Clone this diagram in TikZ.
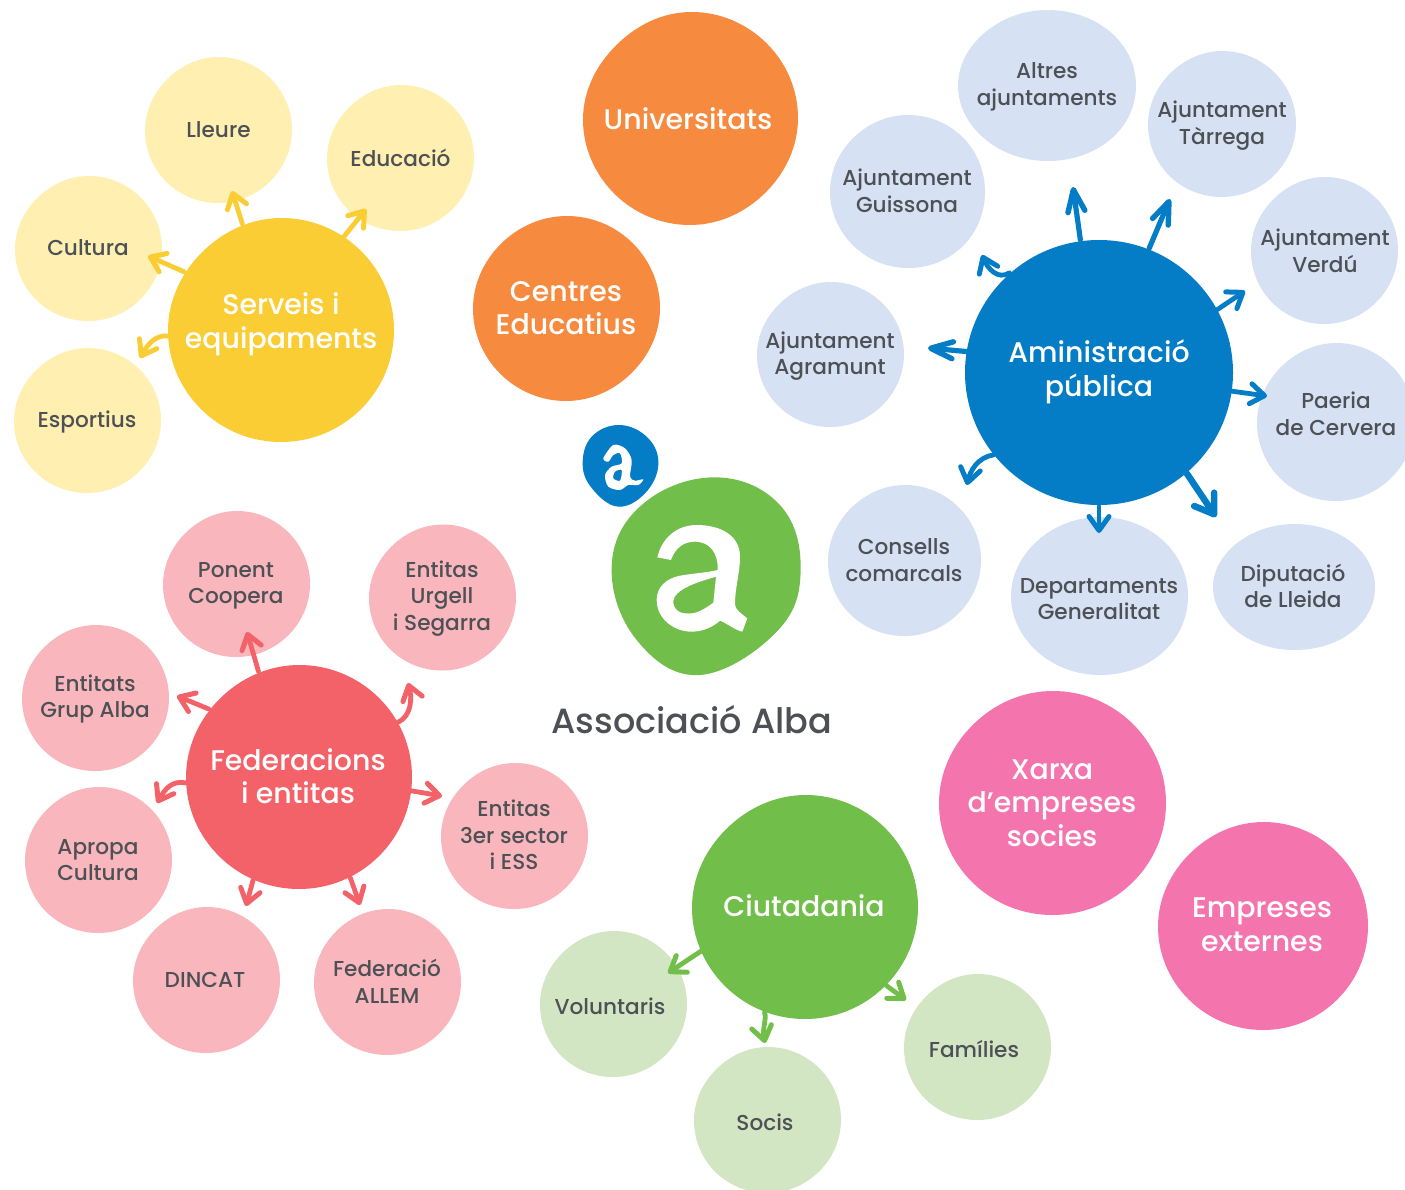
\documentclass[tikz,border=0pt]{standalone}
\usepackage{fontspec}
\usetikzlibrary{arrows.meta}
\setmainfont{Poppins Medium}
\newfontfamily\dkfont{Poppins Medium}
\definecolor{ylight}{HTML}{FFEFB0}
\definecolor{ymain}{HTML}{F9CD33}
\definecolor{orangemain}{HTML}{F68A3F}
\definecolor{blight}{HTML}{D6E2F3}
\definecolor{bmain}{HTML}{047DC6}
\definecolor{gmain}{HTML}{72BE4B}
\definecolor{glight}{HTML}{D3E6C3}
\definecolor{rmain}{HTML}{F26268}
\definecolor{rlight}{HTML}{F9B7BD}
\definecolor{pmain}{HTML}{F474AD}
\definecolor{darktxt}{HTML}{4D5156}
\tikzset{
  hubshape/.style={circle,inner sep=0pt,outer sep=0pt},
  sattext/.style={text=darktxt,align=center,inner sep=0pt,font=\dkfont\fontsize{21.6}{26.6}\selectfont},
  hubtext/.style={text=white,align=center,inner sep=0pt,font=\fontsize{28.4}{33.6}\selectfont},
  titletext/.style={text=darktxt,align=center,inner sep=0pt,font=\dkfont\fontsize{35}{40}\selectfont},
  conn/.style={line width=4.8pt,line cap=round,-{Straight Barb[length=14pt,width=20pt,round,line width=5pt]}},
  connlong/.style={line width=5.2pt,line cap=round,-{Straight Barb[length=22pt,width=17pt,round,line width=5.4pt]}},
  connbig/.style={line width=6.5pt,line cap=round,-{Straight Barb[length=18pt,width=24pt,round,line width=6.5pt]}},
}
% name, cx, cy, rx, ry, colour, radial multipliers at 0,45,...,315 degrees (y down)
\newcommand{\blob}[7]{%
  \fill[#6] plot[smooth cycle,tension=.68,samples at={0,45,...,315},variable=\a]
    ({#2+#4*{#7}[int(\a/45)]*cos(\a)},{#3+#5*{#7}[int(\a/45)]*sin(\a)});
  \node[hubshape,minimum size=2*#4 pt] (#1) at (#2,#3) {};
}
\def\sA{1,.995,1,1.005,1,.985,1,1}
\def\sB{1,1.01,1,.995,1,.99,1,1.005}
\begin{document}
\begin{tikzpicture}[x=1pt,y=-1pt]
\clip (0,0) rectangle (1405,1189);
% yellow group
\blob{lleure}{218.5}{130}{73.5}{73}{ylight}{\sA}
\blob{educ}{400.5}{158}{73.5}{73}{ylight}{\sA}
\blob{cult}{88.5}{248.5}{73.5}{72.5}{ylight}{\sA}
\blob{esport}{87.5}{420.5}{73.5}{72.5}{ylight}{\sA}
\blob{serveis}{281}{330}{113}{112}{ymain}{1,1,1,1,1,.985,1,1}
\node[sattext] (lleuret) at (218.5,129.5) {Lleure};
\node[sattext] (educt) at (400.5,157.5) {Educació};
\node[sattext] (cultt) at (88,247.5) {Cultura};
\node[sattext] (esportt) at (87,422) {Esportius};
\node[hubtext] (servt) at (281,324) {Serveis i\\equipaments};
% orange
\blob{univ}{690.5}{118.5}{107.5}{106.5}{orangemain}{1,.985,1,1,1,.975,1,1}
\blob{centres}{566.5}{308.5}{93.5}{92.5}{orangemain}{1,.985,1,1,1,.99,1,1}
\node[hubtext] (univt) at (688,119) {Universitats};
\node[hubtext] (centt) at (566,308) {Centres\\Educatius};
% blue group
\blob{altres}{1047}{85.5}{89}{75.5}{blight}{\sB}
\blob{tarrega}{1222}{124}{74}{73}{blight}{\sA}
\blob{verdu}{1324.5}{250.5}{73.5}{73.5}{blight}{\sA}
\blob{paeria}{1336}{422}{79}{79}{blight}{\sA}
\blob{dipu}{1294}{587}{81}{63}{blight}{\sB}
\blob{depart}{1099.5}{596}{88.5}{79}{blight}{\sB}
\blob{cons}{904.5}{560.5}{76.5}{75.5}{blight}{\sA}
\blob{agra}{830.5}{354.5}{73.5}{72.5}{blight}{\sA}
\blob{guis}{907.5}{191.5}{77.5}{76.5}{blight}{\sB}
\blob{admin}{1099}{372.5}{134}{132.5}{bmain}{1,1,1,1,1,1,1,1}
\node[sattext] (altrest) at (1047,87) {Altres\\ajuntaments};
\node[sattext] (tarregat) at (1222,125.5) {Ajuntament\\Tàrrega};
\node[sattext] (verdut) at (1325,250.5) {Ajuntament\\Verdú};
\node[sattext] (paeriat) at (1336,414) {Paeria\\de Cervera};
\node[sattext] (diput) at (1293,586) {Diputació\\de Lleida};
\node[sattext] (departt) at (1099,599) {Departaments\\Generalitat};
\node[sattext] (const) at (904,560) {Consells\\comarcals};
\node[sattext] (agrat) at (830,356) {Ajuntament\\Agramunt};
\node[sattext] (guist) at (907,191) {Ajuntament\\Guissona};
\node[hubtext] (admint) at (1099,372) {Aministració\\pública};
% logo
\begin{scope}[shift={(570,410)},scale=1/3]
\fill[bmain] plot[smooth cycle,tension=.68] coordinates {(150,45)(235,85)(265,165)(225,250)(145,290)(70,240)(38,165)(65,80)};
\fill[gmain] plot[smooth cycle,tension=.68] coordinates {(430,202)(625,280)(692,470)(625,660)(390,795)(200,690)(125,470)(215,285)};
\fill[white,even odd rule] plot[smooth cycle,tension=.5] coordinates {(100,145)(130,105)(165,115)(185,150)(180,200)(195,212)(220,208)(205,225)(175,225)(150,240)(115,230)(105,195)(125,170)(155,160)(150,130)(130,135)(115,155)}
  plot[smooth cycle,tension=.5] coordinates {(155,180)(150,212)(130,205)(135,185)};
\fill[white,even odd rule]
  (262,442) .. controls (275,385) and (320,345) .. (380,345)
  .. controls (450,345) and (510,375) .. (510,440)
  .. controls (510,490) and (495,530) .. (495,585)
  .. controls (497,600) and (515,612) .. (532,625)
  -- (517,665) .. controls (495,660) and (470,640) .. (450,632)
  .. controls (430,650) and (400,665) .. (365,665)
  .. controls (310,665) and (260,625) .. (260,570)
  .. controls (260,530) and (290,505) .. (330,497)
  .. controls (370,490) and (410,488) .. (443,480)
  .. controls (445,430) and (420,395) .. (375,395)
  .. controls (340,395) and (315,415) .. (303,450) -- cycle
  (438,500) .. controls (400,512) and (305,535) .. (310,580)
  .. controls (315,610) and (345,612) .. (365,610)
  .. controls (390,607) and (410,592) .. (430,578) -- cycle;
\end{scope}
\node[titletext] (title) at (692,720) {Associació Alba};
% red group
\blob{ponent}{236.5}{584}{73.5}{73}{rlight}{\sA}
\blob{urgell}{442.5}{597.5}{73.5}{73}{rlight}{\sA}
\blob{grup}{95.5}{698}{73.5}{73}{rlight}{\sA}
\blob{apropa}{98.5}{860}{73.5}{73}{rlight}{\sA}
\blob{dincat}{206.5}{980}{73.5}{73}{rlight}{\sA}
\blob{allem}{387.5}{982}{73.5}{73}{rlight}{\sA}
\blob{ess}{514.5}{836}{73.5}{73}{rlight}{\sA}
\blob{feder}{299}{777}{113}{112}{rmain}{1,1,1,1,1,.99,1,1}
\node[sattext] (ponentt) at (236,586) {Ponent\\Coopera};
\node[sattext] (urgellt) at (442,598.5) {Entitas\\Urgell\\i Segarra};
\node[sattext] (grupt) at (95,699) {Entitats\\Grup Alba};
\node[sattext] (apropat) at (98,860) {Apropa\\Cultura};
\node[sattext] (dincatt) at (205,980) {DINCAT};
\node[sattext] (allemt) at (387,981.5) {Federació\\ALLEM};
\node[sattext] (esst) at (514,835) {Entitas\\3er sector\\i ESS};
\node[hubtext] (federt) at (298,776) {Federacions\\i entitas};
% green group
\blob{volun}{613.5}{1004}{73.5}{73}{glight}{\sA}
\blob{socis}{767.5}{1120}{73.5}{73}{glight}{\sA}
\blob{famil}{977.5}{1047}{73.5}{73}{glight}{\sA}
\blob{ciut}{805}{907}{113}{112}{gmain}{1,1,1,1,1,.985,1,1}
\node[sattext] (volunt) at (610,1006) {Voluntaris};
\node[sattext] (socist) at (765,1122) {Socis};
\node[sattext] (familt) at (974,1049) {Famílies};
\node[hubtext] (ciutt) at (804,906) {Ciutadania};
% pink
\blob{xarxa}{1052.5}{803}{113.5}{112}{pmain}{1,1,1,1,1,.99,1,1}
\blob{empre}{1263}{926}{105}{104}{pmain}{1,1,1,1,1,.985,1,1}
\node[hubtext] (xarxat) at (1052,803) {Xarxa\\d'empreses\\socies};
\node[hubtext] (empret) at (1262,925) {Empreses\\externes};
% arrow tips
\coordinate (ty1) at (232,191);
\coordinate (ty2) at (366,209);
\coordinate (ty3) at (148,256);
\coordinate (ty4) at (140,358);
\coordinate (tb1) at (1073,187);
\coordinate (tb2) at (1170,199);
\coordinate (tb3) at (1245,291);
\coordinate (tb4) at (1267,396);
\coordinate (tb5) at (1216,517);
\coordinate (tb6) at (1099,533);
\coordinate (tb7) at (967,485);
\coordinate (tb8) at (928,348);
\coordinate (tb9) at (982,255);
\coordinate (tr1) at (247,632);
\coordinate (tr2) at (408,683);
\coordinate (tr3) at (442,796);
\coordinate (tr4) at (360,905);
\coordinate (tr5) at (246,906);
\coordinate (tr6) at (157,803);
\coordinate (tr7) at (177,696);
\coordinate (tg1) at (668,973);
\coordinate (tg2) at (765,1043);
\coordinate (tg3) at (906,1000);
% yellow connectors
\draw[conn,ymain] (serveis.110) -- (ty1);
\draw[conn,ymain] (serveis.56) -- (ty2);
\draw[conn,ymain] (serveis.149) -- (ty3);
\draw[conn,ymain] (serveis.183) .. controls (155,335) and (148,344) .. (ty4);
% blue connectors
\draw[connlong,bmain] (admin.98) -- (tb1);
\draw[connlong,bmain] (admin.68) -- (tb2);
\draw[conn,bmain] (admin.28) -- (tb3);
\draw[conn,bmain] (admin.-8) -- (tb4);
\draw[connbig,bmain] (admin.-49) -- (tb5);
\draw[conn,bmain] (admin.-90) -- (tb6);
\draw[conn,bmain] (admin.218) .. controls (978,457) and (970,471) .. (tb7);
\draw[connlong,bmain] (admin.171) -- (tb8);
\draw[conn,bmain] (admin.132) .. controls (998,280) and (988,269) .. (tb9);
% red connectors
\draw[conn,rmain] (feder.111) -- (tr1);
\draw[conn,rmain] (feder.29) .. controls (412,716) and (412,697) .. (tr2);
\draw[conn,rmain] (feder.-7) -- (tr3);
\draw[conn,rmain] (feder.-63) -- (tr4);
\draw[conn,rmain] (feder.-114) -- (tr5);
\draw[conn,rmain] (feder.183) .. controls (172,780) and (165,789) .. (tr6);
\draw[conn,rmain] (feder.143) -- (tr7);
% green connectors
\draw[conn,gmain] (ciut.203) -- (tg1);
\draw[conn,gmain] (ciut.-111) .. controls (767,1018) and (762,1029) .. (tg2);
\draw[conn,gmain] (ciut.-44) -- (tg3);
\end{tikzpicture}
\end{document}
